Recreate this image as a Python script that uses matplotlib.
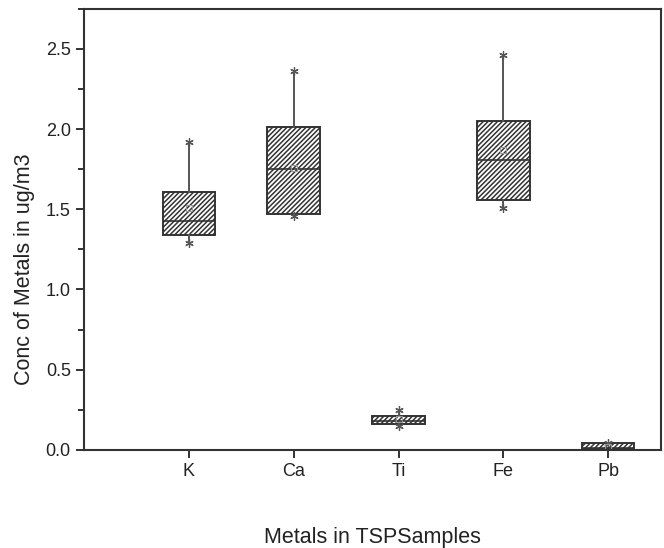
import matplotlib
matplotlib.use("Agg")
import numpy as np
import matplotlib.pyplot as plt
from matplotlib.ticker import MultipleLocator

plt.rcParams['font.family'] = ['Liberation Sans', 'DejaVu Sans']
plt.rcParams['hatch.linewidth'] = 1.1

metals = ["K", "Ca", "Ti", "Fe", "Pb"]
mins = [1.29, 1.46, 0.15, 1.51, 0.00]
q1 = [1.34, 1.47, 0.16, 1.56, 0.005]
med = [1.43, 1.75, 0.18, 1.81, 0.015]
q3 = [1.61, 2.01, 0.21, 2.05, 0.04]
maxs = [1.92, 2.36, 0.25, 2.46, 0.045]
means = [1.51, 1.76, 0.19, 1.87, 0.02]

stats = []
for i in range(len(metals)):
    stats.append(dict(label=metals[i], whislo=mins[i], q1=q1[i], med=med[i],
                      q3=q3[i], whishi=maxs[i], mean=means[i], fliers=[]))

pos = np.arange(1, len(metals) + 1)

fig = plt.figure(figsize=(6.64, 5.48), dpi=100)
ax = fig.add_axes([0.1265, 0.179, 0.8685, 0.805])

bp = ax.bxp(stats, positions=pos, widths=0.5, patch_artist=True,
            showcaps=False, showfliers=False, showmeans=True,
            boxprops=dict(facecolor='white', edgecolor='#333333', linewidth=1.4, hatch='///////'),
            medianprops=dict(color='#333333', linewidth=1.2),
            whiskerprops=dict(color='#555555', linewidth=1.4),
            meanprops=dict(marker='s', markersize=4, markerfacecolor='none',
                           markeredgecolor='#999999', markeredgewidth=0.8))

# min / max star markers
ax.plot(pos, mins, ls='none', marker=(6, 2, 0), markersize=6, color='#555555', mew=0.9)
ax.plot(pos, maxs, ls='none', marker=(6, 2, 0), markersize=6, color='#555555', mew=0.9)

ax.set_xlim(0, 5.5)
ax.set_ylim(0, 2.75)
ax.set_xticks(pos)
ax.set_xticklabels(metals)
ax.yaxis.set_major_locator(MultipleLocator(0.5))
ax.yaxis.set_minor_locator(MultipleLocator(0.25))
ax.yaxis.set_major_formatter(matplotlib.ticker.FormatStrFormatter('%.1f'))
ax.tick_params(axis='both', which='both', direction='out', labelsize=13, colors='#222222', width=1.3)
ax.tick_params(axis='both', which='major', length=6)
ax.tick_params(axis='y', which='minor', length=4)
for s in ax.spines.values():
    s.set_linewidth(1.5)
    s.set_color('#333333')

ax.set_xlabel('Metals in TSPSamples', fontsize=15.5, color='#222222')
ax.xaxis.set_label_coords(0.5, -0.175)
ax.set_ylabel('Conc of Metals in ug/m3', fontsize=15.5, color='#222222')
ax.yaxis.set_label_coords(-0.085, 0.41)

fig.savefig('out.png', dpi=100)
